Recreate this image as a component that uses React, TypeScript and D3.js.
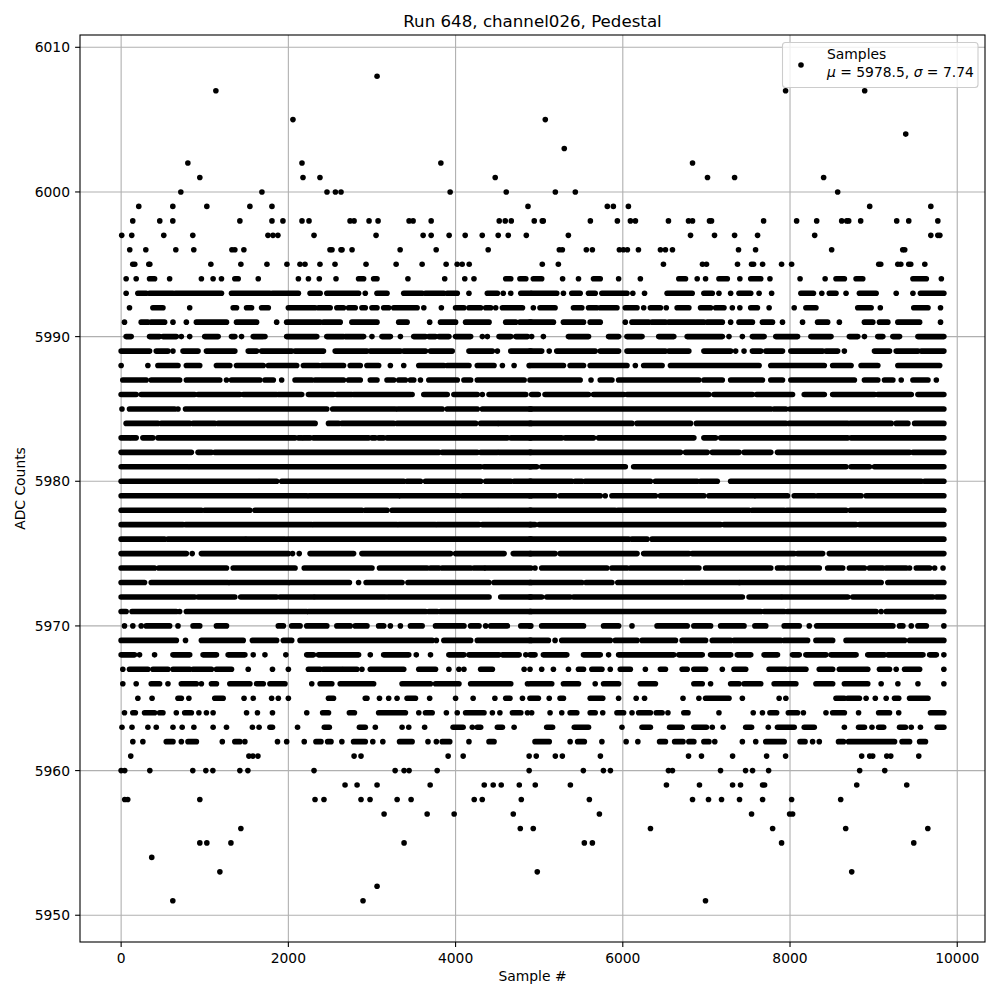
import React from "react";
import * as d3 from "d3";

// ---- axis ticks ----
const xTicks = [0, 2000, 4000, 6000, 8000, 10000];
const yTicks = [5950, 5960, 5970, 5980, 5990, 6000, 6010];
const sampleMax = 9840;
const valueMin = 5951;
const valueMax = 6008;

// ---- data: [ADC value, sample numbers / sample ranges "a-b"] ----
const upperTail: [number, string][] = [
  [6008, "3061"],
  [6007, "1133 7947 8893"],
  [6005, "2055 5073"],
  [6004, "9384"],
  [6003, "5300"],
  [6002, "798 2163 3824 6834"],
  [6001, "941 2175 2378 4474 7013 7337 8402"],
  [6000, "714 1684 2462 2563 2630 3935 4606 5193 5432 8570"],
  [5999, "211 618 1025 1540 1804 4866 5815 5887 6067 8953 9684"],
  [5998, "139 462 618 1420 1804 1935 2163 2247 2738 2786 2965 3073 3444 3492 3708 4522 4594 4666 4941 5037 5049 5612 5935 6091 6151 6546 6786 6834 7037 7061 7684 8079 8319 8618 8678 8702 8845 9276 9420 9768"],
  [5997, "7 127 510 857 1756 1816 1875 2307 3049 3612 3708 3923 4115 4319 4510 4630 4846 5349 6810 7097 7337 7612 8295 9684 9768 9792"],
  [5996, "103 295 654 869 1325 1360 1468 2498 2522 2630 2642 2762 3337 3768 4390 5241 5277 5564 5636 5959 6007 6055 6187 6450 6510 6594 7384 7588 8498 9348 9372"],
  [5995, "139 163 331 343 1073 1432 1744 1983 2139 2199 2378 2558 2929 3289 3600 3887 4019 4079 4163 5037 5229 6486 6953 7001 7372 7540 7564 7672 7899 8019 9061 9085 9289 9325 9420 9444 9612"],
];

const upperBand: [number, string][] = [
  [5994, "60 180 340-400 580 960 1100 1200 1360-1400 1640 2120 2240 2370 2570 2840-2900 3020-3060 3430 3870 4110 4220 4600-4660 4770-4840 4930-5030 5280 5470 5650-5730 5950 6210 6670-6750 6890 6990 7150-7250 7400 7530-7650 7760 8120 8420 8550-8650 8790-8870 9470-9630 9810"],
  [5993, "60 200-300 340-620 650-1200 1320-1780 1810-2120 2260-2380 2460-2840 2920 3060-3180 3380-3600 3640-3860 3900-4020 4160 4380-4500 4570 4660 4780-4900 4910-5210 5290 5390-5490 5590-5670 5750-6050 6120 6260 6530-6830 6970-7070 7150 7290 7390-7530 7630 7780 8130-8280 8380 8470-8550 8670 8830-9030 9270 9470 9560-9840"],
  [5992, "100 380-500 820 1340-1380 1500-1560 1680-1760 2000-2320 2360-2500 2580-2660 2720-2800 2880-2920 3000-3060 3140-3200 3260-3540 3620 3830 4000-4100 4160-4300 4360-4420 4480 4560-4800 4930 5010-5190 5410-5510 5590-5690 5730-5930 6030-6170 6250 6330-6450 6520 6650-6790 6930-7050 7110-7210 7310 7400 7530-7610 7750 8050 8190-8310 8810-8970 9080 9480-9650 9800"],
  [5991, "40 240-320 360-520 620 780 900-1260 1380-1620 1860 1980-2380 2420-2620 2760-3060 3320-3420 3690 3820-4000 4120-4400 4600-4720 4770-4900 4890-5170 5290-5530 5610-5730 6030 6110-6310 6350-6510 6550-6970 7010-7190 7290 7390-7550 7670-7790 7910 8150 8330-8450 8590 8890-8990 9070-9170 9290-9550 9800"],
  [5990, "60-120 340-460 500-660 720 820 1000-1160 1320-1360 1440 1580-1700 1720 1980-2340 2460-2660 2680-2900 3000 3120-3220 3340 3500-3640 3680-3760 3800-3920 4000-4180 4320 4380 4520-4660 4720-4860 4910 5050 5350-5590 5830-5950 6050-6230 6430-6610 6770-7190 7270 7430 7550-7690 7830-8090 8250-8490 8710-8810 8890 9050-9110 9230-9310 9530-9840"],
];

const core: [number, string][] = [
  [5989, "0-340 420-560 620 740-920 1020-1360 1520-1620 1680-2040 2080-2420 2560-2940 2980-3340 3380-3640 3700-3960 4160-4440 4500 4660-4900 4890-5030 5120 5210-5670 5730-5950 6050-6510 6550-6790 6970-7290 7350 7450 7550-7650 7710-7910 8010-8390 8430-8570 8650 9010-9190 9270-9530 9570-9840"],
  [5988, "0 320 440-680 780-940 1140-1300 1380-1700 1760-2100 2180-2360 2400-2660 2740-2860 2940-3080 3220 3380 3560-3860 3900-4160 4260-4460 4560 4700 4880 4890-5290 5370-5530 5610-6050 6150 6250-6470 6570-7630 7770-8410 8510-8730 8850-9050 9290-9790"],
  [5987, "20-300 360-700 780-1180 1260 1320-1660 1720-1820 1920 2080-2280 2320-2660 2720-2860 2980-3060 3180-3260 3320-3400 3460-3500 3580 3680-4020 4100-4180 4260-4820 4890-5490 5620 5730-5870 5950-6910 6970-7190 7290-7670 7770-7910 8010-8770 8890-9050 9130-9230 9330 9470-9650 9750"],
  [5986, "0-180 240-880 920-1420 1460-1860 1880-2160 2240-2540 2580-2760 2780-3460 3480 3620-3900 3980-4260 4320 4400-4840 4910-4990 5070-5590 5650-6010 6050-7030 7090-7550 7600-8030 8170-8410 8510-9010 9050-9450 9530-9840"],
  [5985, "10 100-640 680 770-2460 2530-3280 3310-3840 3900-4260 4320-4900 4890-7770 7810-7950 8000-9840"],
  [5984, "60-440 480-820 860-1120 1160-2320 2480-2600 2640-3260 3300-4240 4300-4500 4520-4900 4890-6110 6170-6810 6880-7950 7990-8690 8720-9210 9270-9410 9490-9840"],
  [5983, "0-100 120-180 260-380 440-2080 2120-2160 2180-2260 2300-2960 3000-3040 3080-3140 3180-4620 4660-4900 4890-5270 5310-5650 5710-6850 6970-7110 7170-8690 8730-9840"],
  [5982, "0-840 920-1080 1120-3800 3840-4260 4300-4500 4520-4900 4890-6690 6750-7010 7070-7390 7450-7770 7850-9430 9470-9840"],
  [5981, "0-800 820-4300 4340-4900 4890-4970 5030-6030 6130-8670 8730-8950 9010-9840"],
  [5980, "0-1640 1660-1860 1920-3380 3420-3580 3640-4300 4360-4660 4700-4900 4890-5390 5430-5510 5550-6330 6390-6890 6930-7130 7290-9570 9610-9840"],
  [5979, "0-2220 2250-3320 3340-4040 4080-4900 4890-5190 5250-5730 5790 5870-6390 6450-6970 7030-7570 7590-7970 8050-8290 8330-8850 8910-9840"],
  [5978, "0-960 1000-1540 1600-2880 2920-3180 3240-4500 4520-4900 4890-5910 5940-7510 7550-7930 7960-8670 8720-9840"],
  [5977, "0-740 770-2280 2300-3300 3320-3760 3780-4280 4320-4900 4890-4950 5000-7170 7210-8790 8830-9840"],
  [5976, "0-520 560-1480 1500-1960 1990-4900 4890-6070 6110-6290 6350-9840"],
  [5975, "0-780 850 960-2000 2050 2130 2260-2780 2880-3940 4000-4580 4690-4900 4890-5190 5250-6170 6250-6790 6830-8050 8090-8390 8470-9840"],
  [5974, "0-400 450-1260 1340-2080 2190-3000 3090-3660 3700-3800 3840-4180 4220-4340 4360-4900 4950 5030-5810 5870-6050 6090-6910 6990-7770 7850-7930 7970-8350 8450-8630 8710-8890 8950-9110 9150-9390 9430 9510-9670 9730 9830"],
  [5973, "0-280 360-1280 1300-2000 2020-2730 2840 2930-3360 3430-4400 4460-4900 4890-5510 5560-5870 5940-6710 6750-7390 7400-9090 9170-9840"],
  [5972, "0-880 920-1360 1430-1860 1900-2300 2320-3160 3190-4400 4540-4900 4890-5030 5090-5370 5410-7430 7510-7890 7910-8690 8750-9710 9750-9840"],
  [5971, "0-60 130-660 700 780-2220 2240-3640 3680-3780 3820-4900 4890-7650 7690-7930 7970-9030 9090 9150-9840"],
  [5970, "40 140 240 300-580 680 860-940 1140-1260 1880-1940 2040-2140 2220-2460 2580-2740 2800-2940 3080-3140 3220 3340 3460-3600 3760-4100 4180-4280 4360 4420-4620 4780-4900 4890 5030-5530 5770-5950 6110 6410-6770 6850-7050 7170-7450 7580-7710 7930-8110 8230 8320-9230 9310-9350 9450 9530-9630 9840"],
  [5969, "0-660 770 960-1460 1570-1860 1940-2040 2140-3720 3770 3860-4180 4260-4900 4890-5110 5190 5270-5850 5910-6170 6230-6630 6710-6990 7070-7290 7330-7890 7930-8210 8310-8510 8670-9370 9430-9840"],
  [5968, "0-160 220 400 620-820 980-1140 1280-1480 1580 1720 1970 2220-2300 2360-2840 2980 3140-3440 3530 3700 3920-4100 4160-4520 4560-4760 4840 4890-4950 5050-5330 5530-5730 5830 5950-6610 6670-6950 7050-7290 7370-7530 7690-7850 8030-8110 8190-8430 8490-8790 8930-9130 9170-9590 9670-9750 9840"],
  [5967, "20 100-320 380-560 620-820 860-1080 1140-1320 1520 1810 2000 2240-2380 2420-2640 2660-2820 2880 2980-3380 3560-3760 3920 4040 4100 4300-4440 4820 4890 5030 5170 5350 5470-5530 5630-5750 5850 5970-6090 6270 6450-6510 6710-6770 6850-6990 7190 7330-7470 7750-7950 7990-8190 8350-8510 8590-8930 9070-9190 9270 9370-9550 9840"],
  [5966, "20 180 360-460 560 720-900 960 1080-1140 1300-1540 1620-1700 1780-1960 2280 2380-2520 2620-3020 3360-3700 3760-4040 4180-4660 4860 4890-5150 5290-5470 5670 5770-5950 6210-6390 6850-6950 7050 7290-7390 7450-7650 7810-8070 8310-8510 8650-8930 9090 9290 9530 9840"],
];

const lowerBand: [number, string][] = [
  [5965, "200 370 680-720 810 1120-1220 1470 1580 1800 1880 2000 2480-2540 2920-2940 3090 3200 3300 3420-3520 3690 4000 4210 4470 4600-4650 4800 4890-4990 5120 5250-5290 5610-5760 5950 6160 6260 6720 6910 6990-7270 7430 7870 7950 8550-8650 8690-8830 8910 9020 9150 9250-9300 9430-9650"],
  [5964, "40 140-170 280-400 460-500 660 760-840 930 1020 1100 1500 1630 1810 2220 2410-2480 2730-2790 3080-3400 3560 3640-3720 3890 4020 4120-4340 4440 4530 4680-4780 4860 4910 5130 5270 5370-5450 5610-5670 5760 5930-6010 6110 6190-6330 6400-6470 6540 6730-6780 7150 7560 7670 7760-7840 7980-8090 8160 8430 8510-8650 8820 9060-9190 9300 9680-9840"],
  [5963, "10 130 320 420 620 730 870 1100 1260 1570 1650 1780-1810 2110 2430-2490 2850-2920 3040 3360 3440 3630 3970-4090 4200 4260-4300 4500-4560 4700 5090-5160 5420-5590 5990 6230-6330 6560-6710 6850-7000 7070 7200 7470-7540 7740 7850-8050 8170-8290 8650 8820-8890 8980 9060-9120 9310-9380 9450 9560 9760-9840"],
  [5962, "140 260 540-620 720 800-900 1210 1360-1420 1480 1870 1980 2190 2330-2390 2470-2510 2640 2780-2920 3010 3130 3330-3480 3670 3770 3840-3930 4160 4400-4460 4950-5120 5370 5460-5540 5750 6040 6180 6440-6510 6620-6720 6790-6850 6970-7030 7100 7430 7590 7710-7930 8120-8180 8270 8350 8580-8640 8700-9250 9340-9430 9550-9620"],
];

const lowerTail: [number, string][] = [
  [5961, "115 1528 1576 1636 2786 2869 3911 4091 4880 4965 5193 5277 5732 6786 6941 7313 7720 7947 8857 8953 8989 9157 9205 9540"],
  [5960, "0 43 343 857 1013 1097 1420 1516 2307 3277 3384 3444 3780 4880 5528 5768 5852 6546 6594 7169 7468 7552 7744 8833 9133"],
  [5959, "2678 2822 3061 3696 4343 4450 4546 4762 4953 5373 6522 6917 7313 7408 7672 7696 8798 9396"],
  [5958, "43 79 941 2319 2426 2869 2977 3301 3468 4223 4319 4786 5600 6834 7025 7181 7396 7672 8019 8606"],
  [5957, "3145 3660 3983 4690 5720 7540 7995 8031"],
  [5956, "1432 4774 4929 6331 7792 8666 9648"],
  [5955, "941 1025 1313 3384 5540 5636 7899 9480"],
  [5954, "366"],
  [5953, "1181 4977 8738"],
  [5952, "3061"],
  [5951, "618 2893 6989"],
];

function parseRuns(spec: string): [number, number][] {
  return spec
    .trim()
    .split(/\s+/)
    .map((tok) => {
      const parts = tok.split("-").map(Number);
      const a = Math.min(parts[0], sampleMax);
      const b = Math.min(parts.length > 1 ? parts[1] : parts[0], sampleMax);
      return [a, b] as [number, number];
    });
}

const FONT = "DejaVu Sans, Verdana, sans-serif";

export default function App() {
  const W = 1000;
  const H = 1000;
  const left = 80;
  const right = 985;
  const top = 35;
  const bottom = 942;

  const x = d3
    .scaleLinear()
    .domain([-0.05 * sampleMax, 1.05 * sampleMax])
    .range([left, right]);
  const span = valueMax - valueMin;
  const y = d3
    .scaleLinear()
    .domain([valueMin - 0.05 * span, valueMax + 0.05 * span])
    .range([bottom, top]);

  const rows = [...upperTail, ...upperBand, ...core, ...lowerBand, ...lowerTail];
  const r = 2.8;
  const tickLen = 4.9;
  const fs = 13.89;

  const marks: React.ReactNode[] = [];
  rows.forEach(([v, spec]) => {
    const yy = y(v);
    parseRuns(spec).forEach(([a, b], i) => {
      if (a === b) {
        marks.push(<circle key={`${v}-${i}`} cx={x(a)} cy={yy} r={r} fill="#000" />);
      } else {
        marks.push(
          <line
            key={`${v}-${i}`}
            x1={x(a)}
            x2={x(b)}
            y1={yy}
            y2={yy}
            stroke="#000"
            strokeWidth={2 * r}
            strokeLinecap="round"
          />
        );
      }
    });
  });

  return (
    <svg
      width={W}
      height={H}
      style={{ position: "absolute", left: 0, top: 0, background: "#fff" }}
      fontFamily={FONT}
    >
      <rect x={0} y={0} width={W} height={H} fill="#fff" />
      {/* grid */}
      <g stroke="#b0b0b0" strokeWidth={1.1}>
        {xTicks.map((t) => (
          <line key={`gx${t}`} x1={x(t)} x2={x(t)} y1={top} y2={bottom} />
        ))}
        {yTicks.map((t) => (
          <line key={`gy${t}`} x1={left} x2={right} y1={y(t)} y2={y(t)} />
        ))}
      </g>
      {/* data */}
      <g>{marks}</g>
      {/* spines */}
      <rect
        x={left}
        y={top}
        width={right - left}
        height={bottom - top}
        fill="none"
        stroke="#000"
        strokeWidth={1.1}
      />
      {/* x ticks */}
      {xTicks.map((t) => (
        <g key={`xt${t}`}>
          <line x1={x(t)} x2={x(t)} y1={bottom} y2={bottom + tickLen} stroke="#000" strokeWidth={1.1} />
          <text x={x(t)} y={bottom + 20.5} textAnchor="middle" fontSize={fs} fill="#000">
            {t}
          </text>
        </g>
      ))}
      {/* y ticks */}
      {yTicks.map((t) => (
        <g key={`yt${t}`}>
          <line x1={left - tickLen} x2={left} y1={y(t)} y2={y(t)} stroke="#000" strokeWidth={1.1} />
          <text x={left - 10} y={y(t)} dy="0.36em" textAnchor="end" fontSize={fs} fill="#000">
            {t}
          </text>
        </g>
      ))}
      {/* labels */}
      <text x={(left + right) / 2} y={981} textAnchor="middle" fontSize={fs} fill="#000">
        Sample #
      </text>
      <text
        transform={`translate(25, ${(top + bottom) / 2}) rotate(-90)`}
        textAnchor="middle"
        fontSize={fs}
        fill="#000"
      >
        ADC Counts
      </text>
      <text x={(left + right) / 2} y={27} textAnchor="middle" fontSize={16.67} fill="#000">
        Run 648, channel026, Pedestal
      </text>
      {/* legend */}
      <g>
        <rect
          x={782.5}
          y={42.5}
          width={195.5}
          height={45}
          rx={3}
          ry={3}
          fill="#fff"
          fillOpacity={0.8}
          stroke="#cccccc"
          strokeWidth={1.1}
        />
        <circle cx={801} cy={65} r={r} fill="#000" />
        <text x={827} y={59} fontSize={fs} fill="#000">
          Samples
        </text>
        <text x={827} y={77} fontSize={fs} fill="#000">
          <tspan fontStyle="italic">μ</tspan>
          <tspan> = 5978.5, </tspan>
          <tspan fontStyle="italic">σ</tspan>
          <tspan> = 7.74</tspan>
        </text>
      </g>
    </svg>
  );
}
